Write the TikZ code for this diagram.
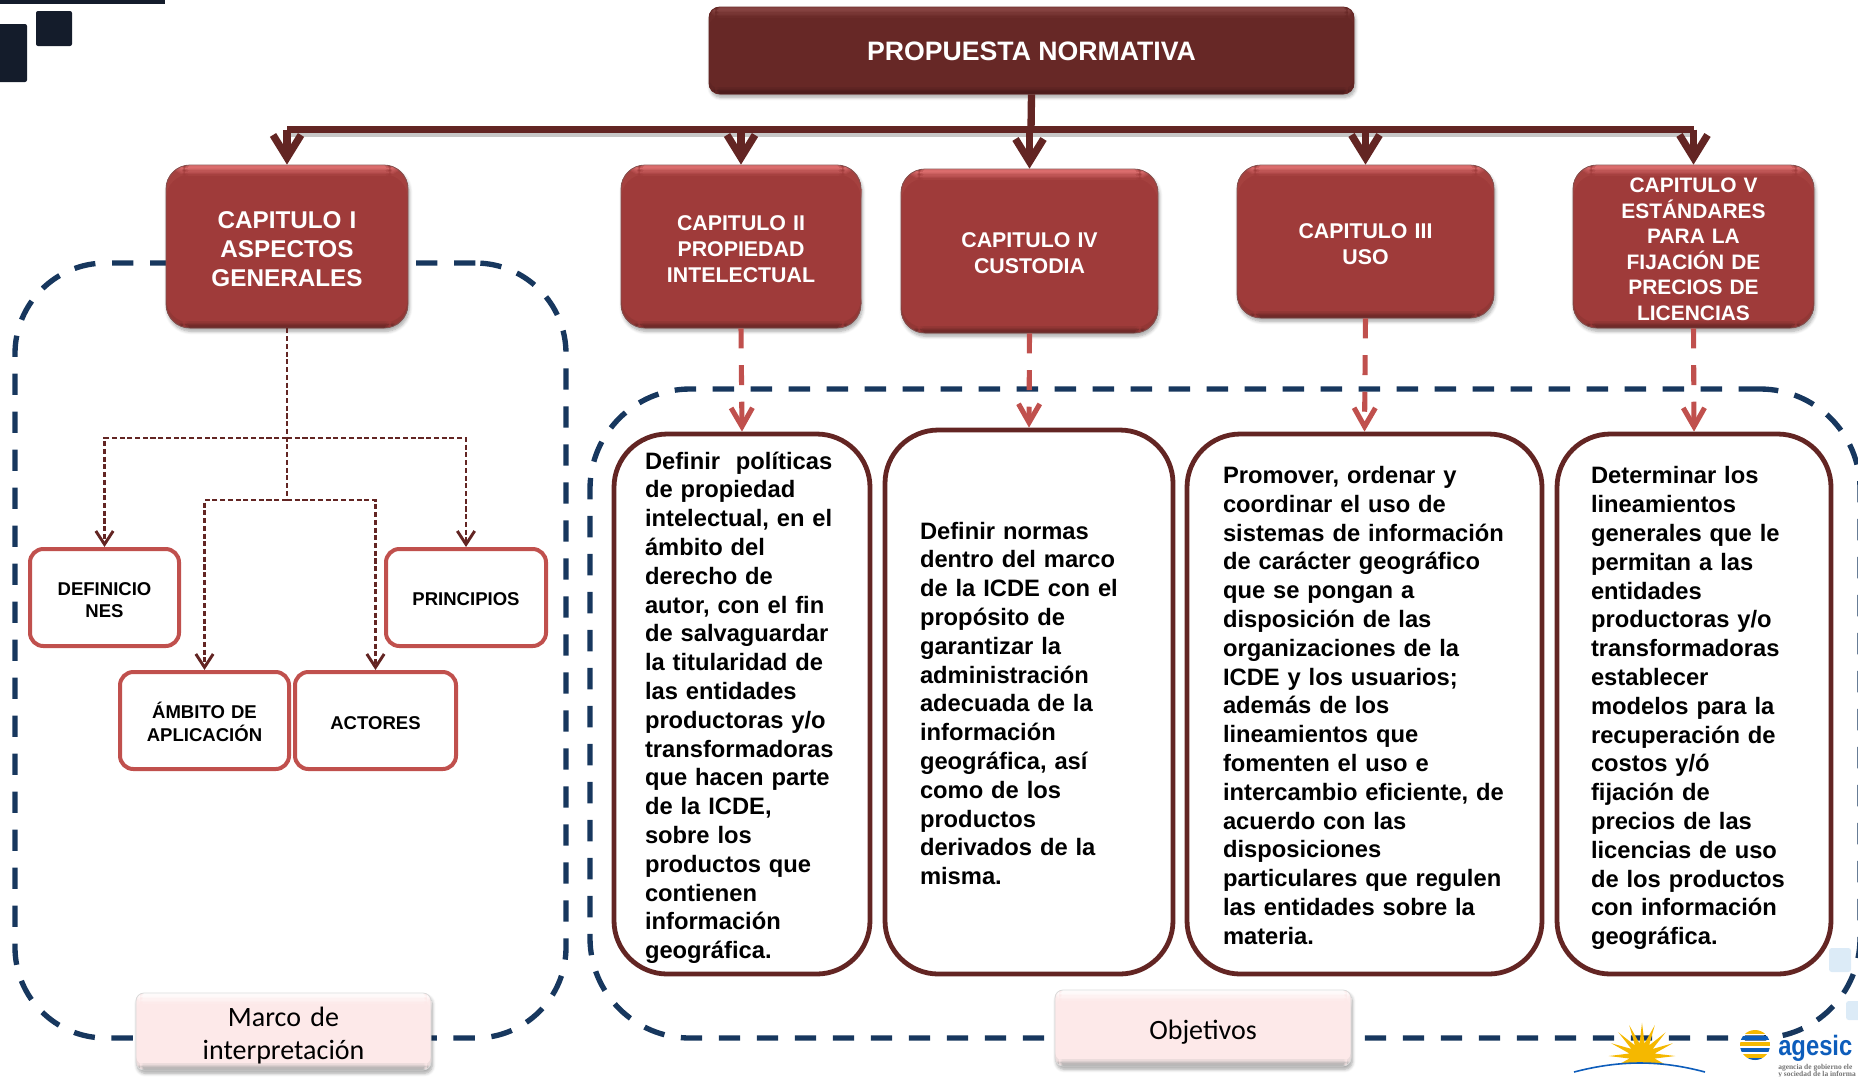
\documentclass[tikz,border=0pt]{standalone}
\usepackage{fontspec}
\setmainfont{Liberation Sans}
\newfontfamily\labelfont{Carlito}
\newfontfamily\logofont{Liberation Serif}
\usetikzlibrary{arrows.meta,shadows,shadows.blur,shapes.geometric}
\definecolor{maroon}{HTML}{632523}
\definecolor{brick}{HTML}{9F3B3A}
\definecolor{brickhi}{HTML}{E87878}
\definecolor{maroonhi}{HTML}{8E4A48}
\definecolor{maroonbody}{HTML}{672826}
\definecolor{maroonlow}{HTML}{45191A}
\definecolor{rosered}{HTML}{C0504D}
\definecolor{navy}{HTML}{17375E}
\definecolor{inkdark}{HTML}{141C2B}
\definecolor{pinkbox}{HTML}{FDE9E9}
\definecolor{pinkedge}{HTML}{A6A6A6}
\definecolor{sunyellow}{HTML}{F5B800}
\definecolor{agesicblue}{HTML}{0D5DBB}
\definecolor{paleblue}{HTML}{DCEBF7}
\tikzset{
	boxfrom/.style n args={4}{minimum width={(#3-#1)*0.75pt},minimum height={(#4-#2)*0.75pt},at={({(#1+#3)/2},{(#2+#4)/2})}},
	objfrom/.style n args={5}{boxfrom={#1}{#2}{#3}{#4},text width={(#3-#1-2*#5)*0.75pt},inner xsep={#5*0.75pt}},
	liftby/.style={execute at begin node={\rule{0pt}{#1}}},
	bevel/.style n args={3}{fill=#2,path picture={
		\foreach \k in {0,...,7}{
			\pgfmathtruncatemacro\mix{100-\k*13}
			\fill[#1!\mix!#2] ([yshift={-\k*1pt}]path picture bounding box.north west) rectangle ([yshift={-(\k+1.2)*1pt}]path picture bounding box.north east);
		};
		\foreach \k in {0,...,4}{
			\pgfmathtruncatemacro\mix{100-\k*20}
			\fill[#3!\mix!#2] ([yshift={\k*1pt}]path picture bounding box.south west) rectangle ([yshift={(\k+1.2)*1pt}]path picture bounding box.south east);
		};
	}},
	softshadow/.style={blur shadow={shadow xshift=1pt,shadow yshift=-2.5pt,shadow blur steps=6,shadow blur radius=2.5pt,shadow opacity=35}},
	chapbox/.style={softshadow,draw=maroon!80,line width=.6pt,rounded corners=18pt,bevel={brickhi}{brick}{maroon},text=white,align=center,inner ysep=0pt},
	titlebox/.style={softshadow,draw=maroon,line width=.6pt,rounded corners=8pt,bevel={maroonhi}{maroonbody}{maroonlow},text=white,font=\fontsize{20}{24}\selectfont\bfseries},
	smallbox/.style={draw=rosered,line width=3pt,fill=white,rounded corners=10pt,align=center,inner ysep=0pt,font=\fontsize{13.9}{16.9}\selectfont\bfseries},
	objbox/.style={draw=maroon,line width=3.6pt,fill=white,rounded corners=40pt,align=left,inner ysep=0pt,font=\fontsize{17.8}{21.6}\selectfont\bfseries},
	notebox/.style={softshadow,draw=black!15,line width=.6pt,rounded corners=6pt,bevel={white}{pinkbox}{pinkedge},align=center,inner ysep=0pt,font=\fontsize{21}{25}\selectfont\labelfont},
	regionbox/.style={draw=navy,line width=4pt,dash pattern=on 16pt off 12.5pt,rounded corners=68pt},
	busline/.style={draw=maroon,line width=5.5pt},
	bustip/.style={busline,-{Straight Barb[length=17pt,width=21pt]}},
	reddash/.style={draw=rosered,line width=3.8pt,dash pattern=on 15pt off 12.5pt,-{Straight Barb[length=14pt,width=16pt]}},
	thindash/.style={draw=maroon,line width=2.2pt,dash pattern=on 3.8pt off 2pt},
	thintip/.style={thindash,-{Straight Barb[length=10pt,width=13pt]}},
}
\begin{document}
\begin{tikzpicture}[x=0.75pt,y=-0.75pt]
\path[use as bounding box,clip] (0,0) rectangle (1858,1076);
\fill[inkdark] (0,0) rectangle (165,4);
\fill[inkdark,rounded corners=1.5pt] (36,11) rectangle (72,46);
\fill[inkdark,rounded corners=1.5pt] (-5,24) rectangle (27,82);
\fill[paleblue,rounded corners=2pt] (1829,948) rectangle (1851,972);
\fill[paleblue,rounded corners=2pt] (1846,1001) rectangle (1866,1020);

\node[regionbox,boxfrom={15}{263}{566}{1038},name=marco]{};
\node[regionbox,rounded corners=75pt,boxfrom={590}{389}{1860}{1038},name=objetivos]{};

\node[titlebox,liftby=15.5pt,boxfrom={709}{7}{1354}{94},name=top]{PROPUESTA NORMATIVA};
\node[chapbox,liftby=17pt,objfrom={166}{165}{408}{328}{8},name=capI,font=\fontsize{18.2}{21.8}\selectfont\bfseries]{CAPITULO I\\ASPECTOS\\GENERALES};
\node[chapbox,liftby=15pt,objfrom={621}{165}{861}{328}{8},name=capII,font=\fontsize{16}{19.5}\selectfont\bfseries]{CAPITULO II\\PROPIEDAD\\INTELECTUAL};
\node[chapbox,liftby=15pt,objfrom={901}{169}{1158}{333}{8},name=capIV,font=\fontsize{16}{19.5}\selectfont\bfseries]{CAPITULO IV\\CUSTODIA};
\node[chapbox,liftby=15pt,objfrom={1237}{165}{1494}{318}{8},name=capIII,font=\fontsize{16}{19.5}\selectfont\bfseries]{CAPITULO III\\USO};
\node[chapbox,liftby=15pt,objfrom={1573}{165}{1814}{328}{8},name=capV,font=\fontsize{15.7}{19.2}\selectfont\bfseries]{CAPITULO V\\ESTÁNDARES\\PARA LA\\FIJACIÓN DE\\PRECIOS DE\\LICENCIAS};

\node[smallbox,liftby=13.6pt,objfrom={30}{549}{179}{646}{8},name=definiciones]{DEFINICIO\\NES};
\node[smallbox,liftby=11.8pt,objfrom={386}{549}{546}{646}{8},name=principios]{PRINCIPIOS};
\node[smallbox,liftby=14.5pt,objfrom={120}{672}{289}{769}{8},name=ambito]{ÁMBITO DE\\APLICACIÓN};
\node[smallbox,liftby=13pt,objfrom={295}{672}{456}{769}{8},name=actores]{ACTORES};

\node[objbox,liftby=18.5pt,objfrom={614}{434}{870}{974}{31},name=objII]{Definir~~políticas\\de propiedad\\intelectual, en el\\ámbito del\\derecho de\\autor, con el fin\\de salvaguardar\\la titularidad de\\las entidades\\productoras y/o\\transformadoras\\que hacen parte\\de la ICDE,\\sobre los\\productos que\\contienen\\información\\geográfica.};
\node[objbox,liftby=15pt,objfrom={885}{430}{1173}{974}{35},name=objIV]{Definir normas\\dentro del marco\\de la ICDE con el\\propósito de\\garantizar la\\administración\\adecuada de la\\información\\geográfica, así\\como de los\\productos\\derivados de la\\misma.};
\node[objbox,liftby=15pt,objfrom={1187}{434}{1542}{974}{36},name=objIII]{Promover, ordenar y\\coordinar el uso de\\sistemas de información\\de carácter geográfico\\que se pongan a\\disposición de las\\organizaciones de la\\ICDE y los usuarios;\\además de los\\lineamientos que\\fomenten el uso e\\intercambio eficiente, de\\acuerdo con las\\disposiciones\\particulares que regulen\\las entidades sobre la\\materia.};
\node[objbox,liftby=19.3pt,objfrom={1557}{434}{1831}{974}{34},name=objV]{Determinar los\\lineamientos\\generales que le\\permitan a las\\entidades\\productoras y/o\\transformadoras\\establecer\\modelos para la\\recuperación de\\costos y/ó\\fijación de\\precios de las\\licencias de uso\\de los productos\\con información\\geográfica.};

\node[notebox,liftby=20.5pt,objfrom={136}{993}{431}{1070}{8},name=marcolabel]{Marco de\\interpretación};
\node[notebox,liftby=20.5pt,objfrom={1055}{990}{1351}{1066}{8},name=objetivoslabel]{Objetivos};

\coordinate (bus) at (1031,129.5);
\coordinate (hubA) at (287,438);
\coordinate (hubB) at (287,500);
\draw[draw=black!22,line width=3pt] ([yshift=-4pt]bus-|capI.north)--([yshift=-4pt]bus-|capV.north);
\draw[busline] (top.south)--(bus);
\draw[busline] (bus-|capI.north)--(bus-|capV.north);
\foreach \x in {I,II,IV,III,V}{
	\draw[bustip] (bus-|cap\x.north)--(cap\x.north);
};
\foreach \x in {II,IV,III,V}{
	\draw[reddash] (cap\x.south)--(obj\x.north);
};
\draw[thindash] (capI.south)--(hubB);
\foreach \x/\y in {hubA/definiciones,hubA/principios,hubB/ambito,hubB/actores}{
	\draw[thintip] (\x)-|(\y.north);
};

\node[star,star points=16,star point ratio=2.6,minimum size=50pt,inner sep=0pt,fill=sunyellow,name=sun] at (1642,1056){};
\fill[white] (1560,1080)--(1574,1072) .. controls (1620,1060) and (1660,1060) .. (1705,1072)--(1720,1080)--cycle;
\draw[agesicblue,line width=1.2pt] (1574,1072) .. controls (1620,1060) and (1660,1060) .. (1705,1072);
\begin{scope}
\clip (1755,1045) circle (15);
\foreach \y/\c in {1030/sunyellow,1036/agesicblue,1042/sunyellow,1048/agesicblue,1054/sunyellow,1058/agesicblue}{
	\fill[\c] (1740,\y) rectangle (1770,\y+4);
};
\end{scope}
\node[anchor=base west,inner sep=0pt,text=agesicblue,xscale=.85,font=\fontsize{21}{21}\selectfont\bfseries,name=agesic] at (1778,1055){agesic};
\node[anchor=base west,inner sep=0pt,text=black!55,font=\fontsize{5.6}{5.6}\selectfont\logofont\bfseries,name=agesicA] at (1778,1069){agencia de gobierno ele};
\node[anchor=base west,inner sep=0pt,text=black!55,font=\fontsize{5.6}{5.6}\selectfont\logofont\bfseries,name=agesicB] at (1778,1076){y sociedad de la informa};
\end{tikzpicture}
\end{document}
